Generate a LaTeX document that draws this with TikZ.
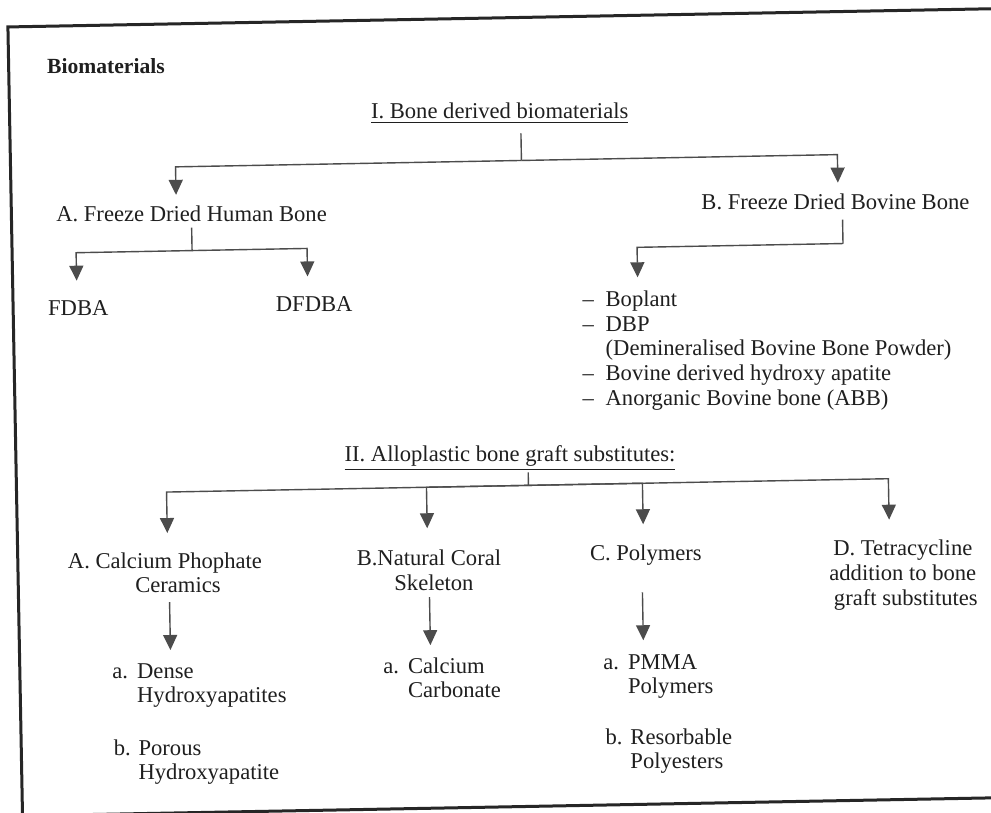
\documentclass[tikz,border=0pt]{standalone}
\usepackage{fontspec}
\setmainfont{Liberation Serif}
\usetikzlibrary{arrows.meta}

\tikzset{
  txt/.style={inner sep=0pt, text=black!88, font=\fontsize{11.3}{12.4}\selectfont},
  link/.style={draw=black!70, line width=0.7pt},
  arr/.style={link, -{Triangle[width=7pt,length=7.5pt]}},
  frame/.style={draw=black!85, line width=1.5pt}
}

\begin{document}
\begin{tikzpicture}[x=0.5pt,y=-0.5pt]
  \useasboundingbox (0,0) rectangle (991,813);
  \fill[white] (0,0) rectangle (991,813);

  % the scanned page is turned a little
  \begin{scope}[rotate around={1.06:(495,406)}]

    % frame
    \draw[frame] (1040,18) -- (15,18) -- (15,807) -- (1040,807);

    % I. bone derived
    \coordinate (Itop) at (526,134);
    \coordinate (Ijn) at (526,161);
    \coordinate (Ain) at (180,189);
    \coordinate (Bin) at (842,189);

    \coordinate (Atop) at (195,222);
    \coordinate (Ajn) at (195,245);
    \coordinate (FDin) at (79,273);
    \coordinate (DFin) at (310,273);

    \coordinate (Btop) at (846,226);
    \coordinate (Bjn) at (846,250);
    \coordinate (Lin) at (640,280);

    % II. alloplastic
    \coordinate (IItop) at (527,473);
    \coordinate (IIjn) at (527,486);
    \coordinate (CaPin) at (165,527);
    \coordinate (Corin) at (425,527);
    \coordinate (Polin) at (641,527);
    \coordinate (Tetin) at (887,527);

    \coordinate (CaPout) at (166,596);
    \coordinate (CaPsub) at (166,644);
    \coordinate (Corout) at (426,596);
    \coordinate (Corsub) at (426,644);
    \coordinate (Polout) at (639,595);
    \coordinate (Polsub) at (639,643);

    \draw[link] (Itop) -- (Ijn);
    \draw[arr] (Ijn) -| (Ain);
    \draw[arr] (Ijn) -| (Bin);

    \draw[link] (Atop) -- (Ajn);
    \draw[arr] (Ajn) -| (FDin);
    \draw[arr] (Ajn) -| (DFin);

    \draw[link] (Btop) -- (Bjn);
    \draw[arr] (Bjn) -| (Lin);

    \draw[link] (IItop) -- (IIjn);
    \draw[arr] (IIjn) -| (CaPin);
    \draw[arr] (IIjn) -| (Corin);
    \draw[arr] (IIjn) -| (Polin);
    \draw[arr] (IIjn) -| (Tetin);

    \draw[arr] (CaPout) -- (CaPsub);
    \draw[arr] (Corout) -- (Corsub);
    \draw[arr] (Polout) -- (Polsub);

    % labels
    \node[txt, anchor=base west, font=\fontsize{10.8}{13}\selectfont\bfseries] (bio) at (53,65) {Biomaterials};
    \node[txt, anchor=base] (boneI) at (505,119) {\underline{I. Bone derived biomaterials}};

    \node[txt, anchor=base] (human) at (195,216) {A. Freeze Dried Human Bone};
    \node[txt, anchor=base] (bovine) at (839,216) {B. Freeze Dried Bovine Bone};
    \node[txt, anchor=base] (fdba) at (80,308) {FDBA};
    \node[txt, anchor=base] (dfdba) at (316,308) {DFDBA};
    \node[txt, anchor=base west] (bovlist) at (584,308) {\begin{tabular}[t]{@{}l@{\hspace{5.9pt}}l@{}}
      -- & Boplant\\
      -- & DBP\\
         & (Demineralised Bovine Bone Powder)\\
      -- & Bovine derived hydroxy apatite\\
      -- & Anorganic Bovine bone (ABB)
    \end{tabular}};

    \node[txt, anchor=base] (alloII) at (509,462) {\underline{II. Alloplastic bone graft substitutes:}};

    \node[txt, anchor=base] (calph) at (162,562) {\begin{tabular}[t]{@{}c@{}}A. Calcium Phophate\\ \hspace*{13pt}Ceramics\end{tabular}};
    \node[txt, anchor=base] (coral) at (426,564) {\begin{tabular}[t]{@{}c@{}}B.Natural Coral\\ \hspace*{5pt}Skeleton\end{tabular}};
    \node[txt, anchor=base] (poly) at (643,563) {C. Polymers};
    \node[txt, anchor=base] (tetra) at (900,563) {\begin{tabular}[t]{@{}c@{}}D. Tetracycline\\ addition to bone\\ \hspace*{3pt}graft substitutes\end{tabular}};

    \node[txt, anchor=base west] (dense) at (107,671) {\begin{tabular}[t]{@{}p{12.4pt}@{}l@{}}a. & Dense\\ & Hydroxyapatites\end{tabular}};
    \node[txt, anchor=base west] (porous) at (107,748) {\begin{tabular}[t]{@{}p{12.4pt}@{}l@{}}b. & Porous\\ & Hydroxyapatite\end{tabular}};
    \node[txt, anchor=base west] (carb) at (378,671) {\begin{tabular}[t]{@{}p{12.4pt}@{}l@{}}a. & Calcium\\ & Carbonate\end{tabular}};
    \node[txt, anchor=base west] (pmma) at (598,671) {\begin{tabular}[t]{@{}p{12.4pt}@{}l@{}}a. & PMMA\\ & Polymers\end{tabular}};
    \node[txt, anchor=base west] (resorb) at (599,746) {\begin{tabular}[t]{@{}p{12.4pt}@{}l@{}}b. & Resorbable\\ & Polyesters\end{tabular}};
  \end{scope}
\end{tikzpicture}
\end{document}
